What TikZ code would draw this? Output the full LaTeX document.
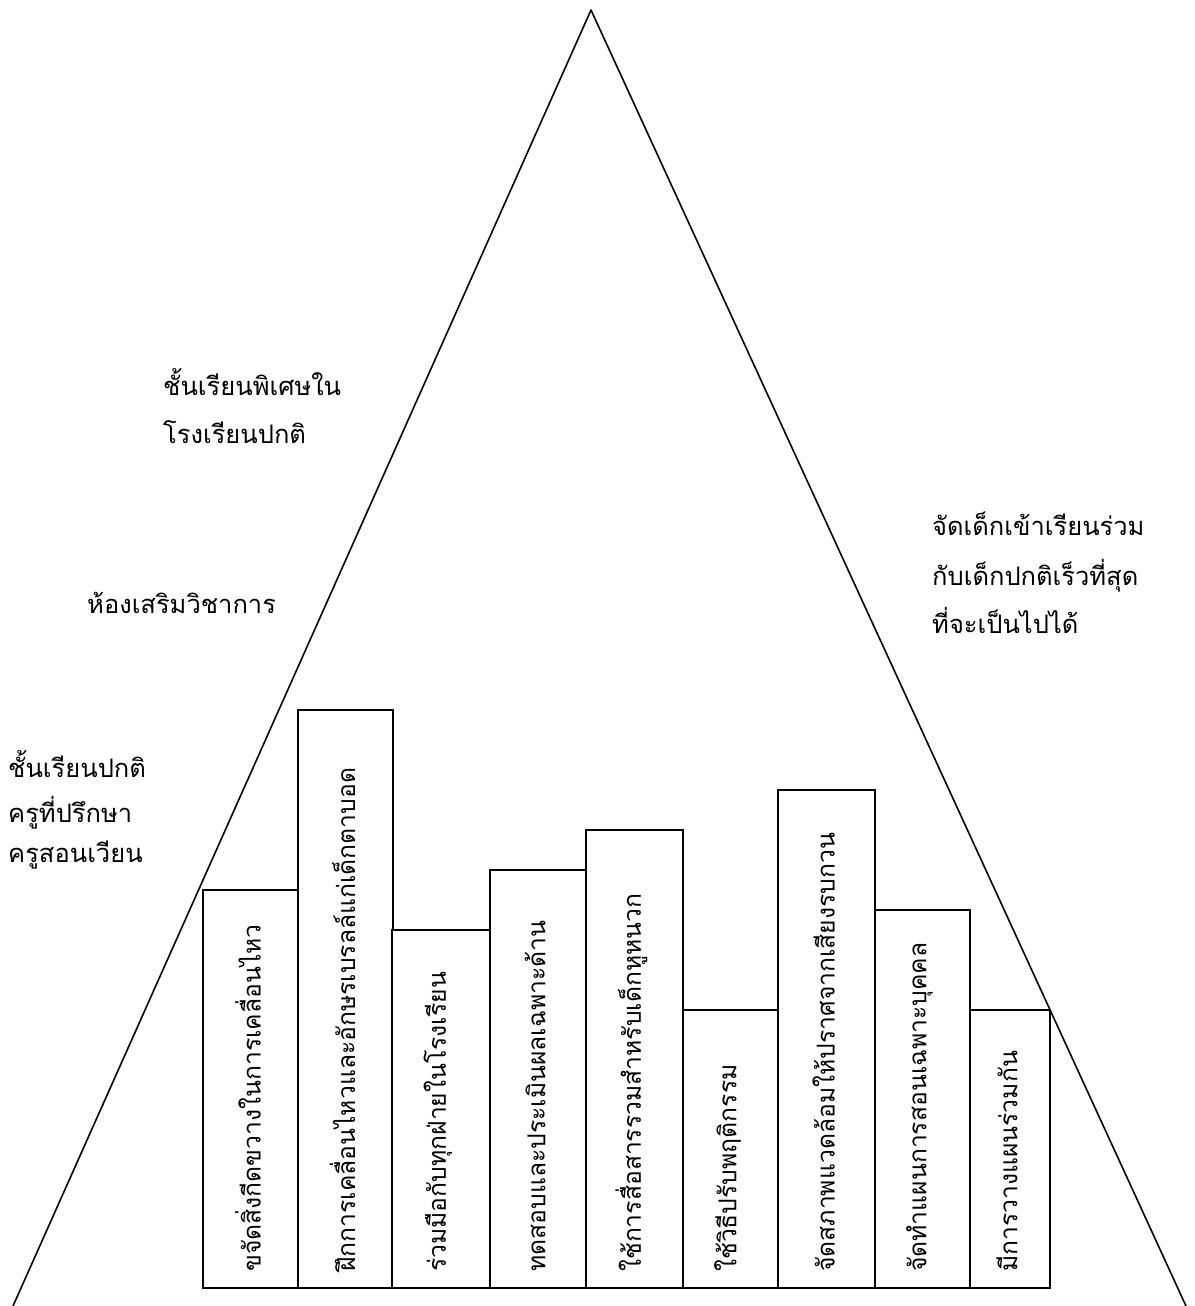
\documentclass[tikz,border=0pt]{standalone}
\usepackage{fontspec}
\newfontfamily\thaifont[Script=Thai]{Loma}
\tikzset{
  side/.style={line width=1.6pt, line cap=round, line join=round},
  barbox/.style={draw, line width=1.8pt, fill=white, inner sep=0pt, outer sep=0pt, anchor=north west},
  bartext/.style={rotate=90, anchor=west, inner sep=0pt, font=\thaifont\fontsize{24.7}{28}\selectfont},
  label/.style={anchor=base west, inner sep=0pt, font=\thaifont\fontsize{25.5}{30}\selectfont},
}
\begin{document}
\begin{tikzpicture}[x=1pt,y=-1pt]
\useasboundingbox (0,0) rectangle (1194,1306);
\fill[white] (0,0) rectangle (1194,1306);
\coordinate (apex) at (591,10);
\coordinate (bl) at (13,1306);
\coordinate (br) at (1186,1306);
\draw[side] (bl) -- (apex) -- (br);
% bars
\node[barbox, minimum width=96pt, minimum height=398pt] (b1) at (203,890) {};
\node[barbox, minimum width=95pt, minimum height=578pt] (b2) at (298,710) {};
\node[barbox, minimum width=98pt, minimum height=358pt] (b3) at (392,930) {};
\node[barbox, minimum width=96pt, minimum height=418pt] (b4) at (490,870) {};
\node[barbox, minimum width=97pt, minimum height=458pt] (b5) at (586,830) {};
\node[barbox, minimum width=95pt, minimum height=278pt] (b6) at (683,1010) {};
\node[barbox, minimum width=97pt, minimum height=498pt] (b7) at (778,790) {};
\node[barbox, minimum width=95pt, minimum height=378pt] (b8) at (875,910) {};
\node[barbox, minimum width=80pt, minimum height=278pt] (b9) at (970,1010) {};
% bar texts
\node[bartext] (t1) at ([yshift=16pt,xshift=-3pt]b1.south) {ขจัดสิ่งกีดขวางในการเคลื่อนไหว};
\node[bartext] (t2) at ([yshift=16pt,xshift=-3pt]b2.south) {ฝึกการเคลื่อนไหวและอักษรเบรลล์แก่เด็กตาบอด};
\node[bartext] (t3) at ([yshift=16pt,xshift=-3pt]b3.south) {ร่วมมือกับทุกฝ่ายในโรงเรียน};
\node[bartext] (t4) at ([yshift=16pt,xshift=-3pt]b4.south) {ทดสอบและประเมินผลเฉพาะด้าน};
\node[bartext] (t5) at ([yshift=16pt,xshift=-3pt]b5.south) {ใช้การสื่อสารรวมสำหรับเด็กหูหนวก};
\node[bartext] (t6) at ([yshift=16pt,xshift=-3pt]b6.south) {ใช้วิธีปรับพฤติกรรม};
\node[bartext] (t7) at ([yshift=16pt,xshift=-3pt]b7.south) {จัดสภาพแวดล้อมให้ปราศจากเสียงรบกวน};
\node[bartext] (t8) at ([yshift=16pt,xshift=-3pt]b8.south) {จัดทำแผนการสอนเฉพาะบุคคล};
\node[bartext] (t9) at ([yshift=16pt,xshift=-3pt]b9.south) {มีการวางแผนร่วมกัน};
% labels
\node[label] (l1a) at (163,395) {ชั้นเรียนพิเศษใน};
\node[label] (l1b) at (163,443) {โรงเรียนปกติ};
\node[label] (l2) at (87,613) {ห้องเสริมวิชาการ};
\node[label] (l3a) at (8,777) {ชั้นเรียนปกติ};
\node[label] (l3b) at (8,822) {ครูที่ปรึกษา};
\node[label] (l3c) at (8,862) {ครูสอนเวียน};
\node[label] (l4a) at (932,535) {จัดเด็กเข้าเรียนร่วม};
\node[label] (l4b) at (932,585) {กับเด็กปกติเร็วที่สุด};
\node[label] (l4c) at (932,633) {ที่จะเป็นไปได้};
\end{tikzpicture}
\end{document}
